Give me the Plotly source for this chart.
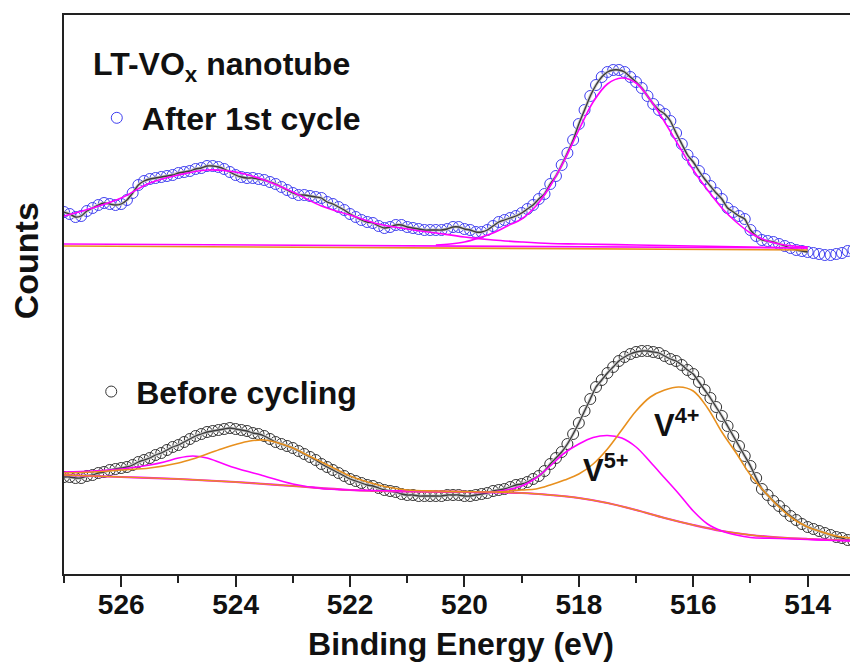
import numpy as np
import plotly.graph_objects as go

# ---------------- data (binding energy in eV, intensity in arbitrary counts) ----------------
# measured points are sampled every 0.1 eV from 527.0 eV down to 513.1 eV
energy = np.round(np.arange(527.0, 513.05, -0.1), 1)

after_counts = [
    362, 360, 357, 358, 363, 366, 369, 371, 370, 369,
    370, 374, 381, 389, 393, 395, 396, 397, 398, 399,
    401, 402, 403, 405, 406, 408, 408, 407, 405, 402,
    399, 397, 396, 396, 395, 394, 392, 390, 387, 384,
    381, 379, 379, 378, 377, 376, 372, 370, 367, 364,
    360, 357, 354, 352, 351, 348, 346, 347, 349, 349,
    347, 346, 345, 344, 344, 344, 344, 345, 347, 347,
    345, 344, 342, 342, 344, 348, 352, 354, 356, 358,
    361, 365, 369, 375, 380, 390, 398, 409, 421, 434,
    450, 464, 478, 489, 497, 502, 504, 504, 502, 497,
    492, 486, 478, 470, 464, 460, 453, 441, 430, 419,
    412, 403, 395, 388, 381, 375, 366, 362, 358, 355,
    344, 338, 334, 333, 332, 330, 328, 326, 324, 323,
    322, 321, 320, 319, 319, 320, 321, 323, 324, 324,
]

before_counts = [
    97, 97, 96, 96, 98, 99, 101, 102, 104, 105,
    106, 107, 109, 112, 114, 116, 119, 121, 124, 127,
    129, 132, 135, 138, 140, 142, 143, 144, 145, 146,
    145, 144, 143, 141, 140, 138, 135, 132, 130, 128,
    126, 123, 120, 117, 114, 110, 107, 104, 101, 98,
    95, 93, 91, 89, 88, 86, 84, 83, 82, 80,
    79, 79, 78, 78, 78, 78, 78, 79, 79, 79,
    78, 78, 79, 80, 81, 83, 84, 85, 87, 89,
    90, 92, 95, 98, 103, 110, 116, 122, 130, 140,
    151, 163, 175, 187, 194, 201, 207, 213, 217, 220,
    222, 223, 223, 222, 221, 218, 215, 213, 209, 204,
    200, 192, 184, 176, 167, 158, 148, 138, 128, 118,
    108, 96, 85, 79, 73, 68, 63, 58, 54, 50,
    47, 45, 43, 41, 39, 37, 36, 34, 33, 31,
]

# fitted components, "After 1st cycle"
after_peak_e = [520.5, 520.25, 520.0, 519.75, 519.5, 519.25, 519.0, 518.75, 518.5, 518.25,
                518.0, 517.75, 517.5, 517.25, 517.0, 516.75, 516.5, 516.25, 516.0, 515.75,
                515.5, 515.25, 515.0, 514.75, 514.5, 514.25, 514.0]
after_peak = [329, 330, 332, 336, 341, 348, 355, 368, 388, 414,
              444, 472, 490, 496, 491, 474, 452, 428, 404, 384,
              366, 352, 341, 334, 330, 328, 327]

after_broad_e = [527.0, 526.5, 526.0, 525.5, 525.0, 524.5, 524.0, 523.5, 523.0, 522.5,
                 522.0, 521.5, 521.0, 520.5, 520.0, 519.5, 519.0, 518.5, 518.0, 517.0,
                 516.0, 515.0, 514.0]
after_broad = [358, 366, 376, 391, 399, 404, 402, 394, 382, 368,
               359, 350, 345, 341, 337, 334, 332, 330.5, 330, 329,
               328, 327, 326]

after_bg_e = [527.0, 514.0]
after_bg_magenta = [330, 326]
after_bg_orange = [328, 324]

# fitted components, "Before cycling"
before_bg_e = [527.0, 526.0, 525.0, 524.0, 523.0, 522.0, 521.0, 520.0, 519.0, 518.5,
               518.0, 517.5, 517.0, 516.5, 516.0, 515.5, 515.0, 514.5, 514.0, 513.5, 513.1]
before_bg = [99, 97, 95, 92, 88, 84, 82.5, 82, 81, 79,
             76, 71, 64, 56, 49, 43, 39, 36.5, 35, 34, 33]

v5_e = [527.0, 526.5, 526.0, 525.5, 525.25, 525.0, 524.75, 524.5, 524.25, 524.0,
        523.5, 523.0, 522.5, 522.0, 521.0, 520.0, 519.5, 519.0, 518.75, 518.5,
        518.25, 518.0, 517.75, 517.5, 517.25, 517.0, 516.75, 516.5, 516.25, 516.0,
        515.75, 515.5, 515.25, 515.0, 514.5, 514.0, 513.5, 513.1]
v5 = [102, 103, 105, 109, 112, 116, 118, 116, 111, 106,
      98, 90, 85.5, 84, 83, 82.5, 82, 88, 96, 108,
      121, 130, 136.5, 138.5, 136, 127, 112, 96, 80, 63,
      50, 43, 39, 36.5, 35.5, 34.5, 33.5, 33]

v4_e = [527.0, 526.5, 526.0, 525.5, 525.0, 524.75, 524.5, 524.25, 524.0, 523.75,
        523.5, 523.25, 523.0, 522.75, 522.5, 522.25, 522.0, 521.75, 521.5, 521.25,
        521.0, 520.5, 520.0, 519.5, 519.0, 518.75, 518.5, 518.25, 518.0, 517.75,
        517.5, 517.25, 517.0, 516.75, 516.5, 516.25, 516.0, 515.75, 515.5, 515.25,
        515.0, 514.75, 514.5, 514.25, 514.0, 513.75, 513.5, 513.25, 513.1]
v4 = [101, 102, 104, 106, 111, 115, 120, 125, 129.5, 133,
      134, 131, 126, 119, 112, 105, 98, 93, 89, 86,
      84, 83, 82.5, 82, 84, 85, 89, 94, 100, 110,
      125, 144, 163, 177, 184, 187, 183, 166, 142, 121,
      99, 82, 67, 55, 47, 42, 38, 36, 35]

x_ticks = [526, 524, 522, 520, 518, 516, 514]

assert len(energy) == len(after_counts) == len(before_counts)

# ---------------- style ----------------
FONT = "Liberation Sans, Arial, sans-serif"
MAGENTA = "#ff00ff"
ORANGE = "#e8901e"
FIT_GRAY = "#c4c4c4"
FIT_DARK = "#3a3a3a"
BLUE = "#3f3ff0"
DARK = "#333333"

fig = go.Figure()

mask_fit = energy >= 514.0 - 1e-9
e_fit = energy[mask_fit]
after_fit = np.array(after_counts)[mask_fit]

# --- After 1st cycle ---
fig.add_trace(go.Scatter(x=energy, y=after_counts, mode="markers", name="After 1st cycle",
                         marker=dict(symbol="circle-open", size=11, color=BLUE, line=dict(width=1)),
                         legend="legend"))
fig.add_trace(go.Scatter(x=e_fit, y=after_fit, mode="lines", showlegend=False,
                         line=dict(color=FIT_GRAY, width=3, shape="spline", smoothing=0.6)))
fig.add_trace(go.Scatter(x=e_fit, y=after_fit, mode="lines", showlegend=False,
                         line=dict(color=FIT_DARK, width=1.3, shape="spline", smoothing=0.6)))
fig.add_trace(go.Scatter(x=after_bg_e, y=after_bg_orange, mode="lines", showlegend=False,
                         line=dict(color=ORANGE, width=1.6)))
fig.add_trace(go.Scatter(x=after_bg_e, y=after_bg_magenta, mode="lines", showlegend=False,
                         line=dict(color=MAGENTA, width=1.6)))
fig.add_trace(go.Scatter(x=after_broad_e, y=after_broad, mode="lines", showlegend=False,
                         line=dict(color=MAGENTA, width=1.6, shape="spline")))
fig.add_trace(go.Scatter(x=after_peak_e, y=after_peak, mode="lines", showlegend=False,
                         line=dict(color=MAGENTA, width=1.6, shape="spline")))

# --- Before cycling ---
fig.add_trace(go.Scatter(x=energy, y=before_counts, mode="markers", name="Before cycling",
                         marker=dict(symbol="circle-open", size=11, color=DARK, line=dict(width=1)),
                         legend="legend2"))
fig.add_trace(go.Scatter(x=energy, y=before_counts, mode="lines", showlegend=False,
                         line=dict(color=FIT_GRAY, width=3, shape="spline", smoothing=0.6)))
fig.add_trace(go.Scatter(x=energy, y=before_counts, mode="lines", showlegend=False,
                         line=dict(color=FIT_DARK, width=1.3, shape="spline", smoothing=0.6)))
fig.add_trace(go.Scatter(x=before_bg_e, y=before_bg, mode="lines", showlegend=False,
                         line=dict(color=MAGENTA, width=2.2, shape="spline")))
fig.add_trace(go.Scatter(x=before_bg_e, y=before_bg, mode="lines", showlegend=False,
                         line=dict(color=ORANGE, width=1.4, shape="spline")))
fig.add_trace(go.Scatter(x=v5_e, y=v5, mode="lines", showlegend=False,
                         line=dict(color=MAGENTA, width=1.6, shape="spline")))
fig.add_trace(go.Scatter(x=v4_e, y=v4, mode="lines", showlegend=False,
                         line=dict(color=ORANGE, width=1.6, shape="spline")))

bold = lambda s: dict(family=FONT, size=s, color="#111111", weight="bold")

# the page body has an 8 px margin, so the figure is 8 px smaller on each side
fig.update_layout(
    width=850, height=658,
    margin=dict(l=56, r=0, t=7, b=92, autoexpand=False),
    paper_bgcolor="white", plot_bgcolor="white",
    xaxis=dict(range=[527, 513.12], tickmode="array", tickvals=x_ticks,
               ticks="outside", ticklen=11, tickwidth=1.5, tickcolor="#222",
               ticklabelstandoff=-7,
               minor=dict(tickmode="linear", tick0=513, dtick=1, ticks="outside",
                          ticklen=7, tickwidth=1.5, tickcolor="#222"),
               showline=True, linewidth=2, linecolor="#222", mirror=True,
               showgrid=False, zeroline=False, tickfont=bold(28), automargin=False,
               title=dict(text="Binding Energy (eV)", font=bold(32), standoff=14)),
    yaxis=dict(range=[0, 559], showline=True, linewidth=2, linecolor="#222",
               showticklabels=False, ticks="", showgrid=False, zeroline=False,
               automargin=False),
    legend=dict(x=0.035, y=0.8157, xanchor="left", yanchor="middle", itemwidth=40,
                bgcolor="rgba(0,0,0,0)", borderwidth=0, font=bold(32)),
    legend2=dict(x=0.028, y=0.326, xanchor="left", yanchor="middle", itemwidth=40,
                 bgcolor="rgba(0,0,0,0)", borderwidth=0, font=bold(32)),
    annotations=[
        dict(text="LT-VO<sub>x</sub> nanotube", xref="paper", yref="paper",
             x=0.0340, y=0.908, xanchor="left", yanchor="middle", showarrow=False,
             font=bold(32)),
        dict(text="Counts", xref="paper", yref="paper", x=-0.0475, y=0.56,
             xanchor="center", yanchor="middle", textangle=-90, showarrow=False,
             font=bold(34)),
        dict(text="V<sup>5+</sup>", x=517.53, y=106, xanchor="center", yanchor="middle",
             showarrow=False, font=bold(31)),
        dict(text="V<sup>4+</sup>", x=516.29, y=151, xanchor="center", yanchor="middle",
             showarrow=False, font=bold(31)),
    ],
)

fig.write_html("out.html")
